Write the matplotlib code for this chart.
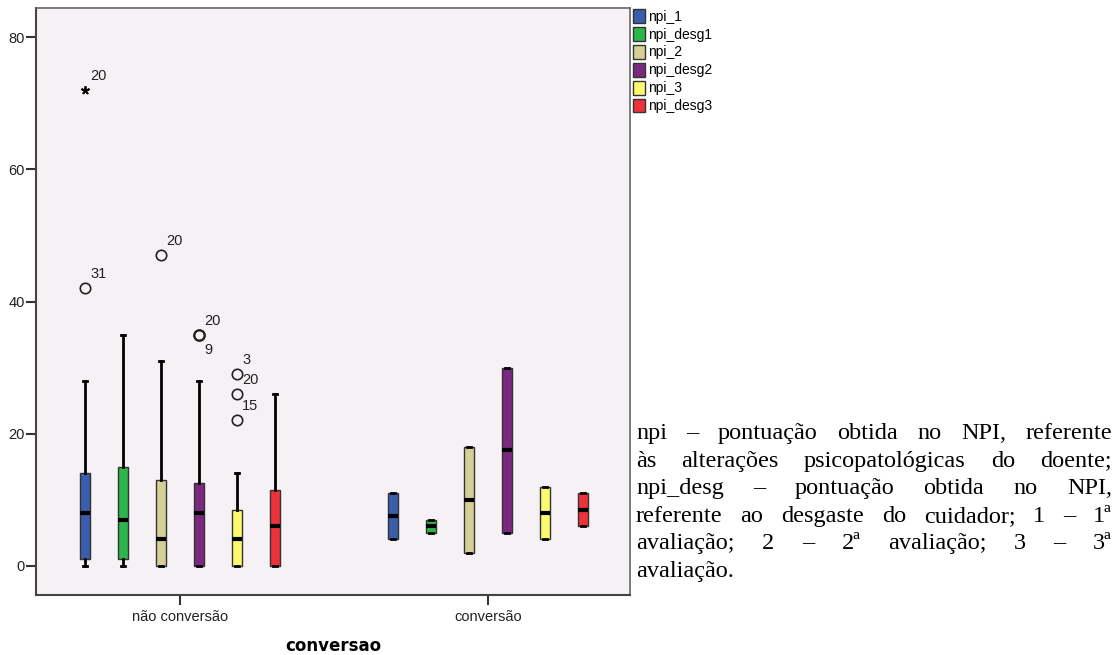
import matplotlib
matplotlib.use("Agg")
import matplotlib.pyplot as plt
from matplotlib.patches import Patch

# groups on the x axis and the six score variables
groups = ["não conversão", "conversão"]
series = ["npi_1", "npi_desg1", "npi_2", "npi_desg2", "npi_3", "npi_desg3"]
colors = ["#3b5dad", "#2cb74a", "#d6cf96", "#7b2880", "#fdfa70", "#ee3239"]

# box statistics, "não conversão"
whislo_nc = [0, 0, 0, 0, 0, 0]
q1_nc = [1, 1, 0, 0, 0, 0]
med_nc = [8, 7, 4, 8, 4, 6]
q3_nc = [14, 15, 13, 12.5, 8.5, 11.5]
whishi_nc = [28, 35, 31, 28, 14, 26]

# box statistics, "conversão"
whislo_c = [4, 5, 2, 5, 4, 6]
q1_c = [4, 5, 2, 5, 4, 6]
med_c = [7.5, 6, 10, 17.5, 8, 8.5]
q3_c = [11, 7, 18, 30, 12, 11]
whishi_c = [11, 7, 18, 30, 12, 11]

# outliers: (group, series, value, case number, marker)
outliers = [
    (0, 0, 42, "31", "o"),
    (0, 0, 72, "20", "*"),
    (0, 2, 47, "20", "o"),
    (0, 3, 35, "20", "o"),
    (0, 3, 35, "9", "o"),
    (0, 4, 29, "3", "o"),
    (0, 4, 26, "20", "o"),
    (0, 4, 22, "15", "o"),
]

note_lines = [
    "npi – pontuação obtida no NPI, referente",
    "às alterações psicopatológicas do doente;",
    "npi_desg – pontuação obtida no NPI,",
    "referente ao desgaste do cuidador; 1 – 1ª",
    "avaliação; 2 – 2ª avaliação; 3 – 3ª",
    "avaliação.",
]

W, H = 1117, 655
fig = plt.figure(figsize=(W / 100, H / 100), dpi=100)
ax = fig.add_axes([36 / W, 1 - 595 / H, (630 - 36) / W, (595 - 8) / H])
ax.set_facecolor("#f5f1f5")

step = 0.1234
box_w = 0.033
offsets = [(i - 2.5) * step for i in range(len(series))]

stats_all = [
    (whislo_nc, q1_nc, med_nc, q3_nc, whishi_nc),
    (whislo_c, q1_c, med_c, q3_c, whishi_c),
]

for g, (lo, q1, med, q3, hi) in enumerate(stats_all):
    for s in range(len(series)):
        st = dict(whislo=lo[s], q1=q1[s], med=med[s], q3=q3[s], whishi=hi[s], fliers=[])
        ax.bxp([st], positions=[g + offsets[s]], widths=box_w, capwidths=0.016,
               showfliers=False, patch_artist=True,
               boxprops=dict(facecolor=colors[s], edgecolor="#333333", linewidth=1.0),
               medianprops=dict(color="black", linewidth=3.0, solid_capstyle="butt"),
               whiskerprops=dict(color="black", linewidth=2.0),
               capprops=dict(color="black", linewidth=2.0),
               manage_ticks=False)

# outliers with case labels; a repeated value gets its second label underneath
seen = {}
for g, s, v, case, mk in outliers:
    x = g + offsets[s]
    key = (g, s, v)
    n = seen.get(key, 0)
    seen[key] = n + 1
    if mk == "*":
        ax.plot(x, v, marker=(5, 2, 0), color="black", markersize=6, mew=1.3, zorder=5)
    else:
        ax.plot(x, v, marker="o", mfc="none", mec="#222222", markersize=7.5,
                mew=1.6 if n else 1.2, zorder=5)
    dy = 14 if n == 0 else -15
    ax.annotate(case, (x, v), xytext=(5, dy), textcoords="offset pixels",
                ha="left", va="center", fontsize=10.5, family="Liberation Sans",
                color="#222222")

ax.set_xlim(-0.4675, 1.461)
ax.set_ylim(-4.4, 84.4)
ax.set_yticks([0, 20, 40, 60, 80])
ax.set_xticks([0, 1])
ax.set_xticklabels(groups)
ax.tick_params(axis="y", length=7, width=1.5, pad=1, labelsize=10.5, colors="#333333")
ax.tick_params(axis="x", length=7, width=1.5, pad=4, labelsize=10.5, colors="#333333")
for lab in ax.get_xticklabels() + ax.get_yticklabels():
    lab.set_family("Liberation Sans")
    lab.set_color("#222222")
for side in ["top", "right"]:
    ax.spines[side].set_color("#666666")
    ax.spines[side].set_linewidth(1.2)
for side in ["left", "bottom"]:
    ax.spines[side].set_color("#444444")
    ax.spines[side].set_linewidth(1.5)
ax.set_xlabel("conversao", fontsize=12, fontweight="bold", labelpad=9,
              family="DejaVu Sans")

handles = [Patch(facecolor=c, edgecolor="#333333", linewidth=1.0) for c in colors]
fig.legend(handles, series, loc="upper left", bbox_to_anchor=(633 / W, 1 - 9 / H),
           frameon=False, handlelength=0.85, handleheight=1.15,
           handletextpad=0.2, labelspacing=0.24, borderpad=0, borderaxespad=0,
           prop={"family": "Liberation Sans", "size": 10})

# justified note text beside the plot
renderer = fig.canvas.get_renderer()
x0, x1 = 636, 1112
base0, dy = 439, 27.6
for i, line in enumerate(note_lines):
    y = 1 - (base0 + i * dy) / H
    kw = dict(fontsize=17.5, family="Liberation Serif", va="baseline", ha="left")
    if i == len(note_lines) - 1:
        fig.text(x0 / W, y, line, **kw)
        continue
    words = line.split(" ")
    texts = [fig.text(0, y, w, **kw) for w in words]
    widths = [t.get_window_extent(renderer).width for t in texts]
    gap = (x1 - x0 - sum(widths)) / (len(words) - 1)
    x = x0
    for t, w in zip(texts, widths):
        t.set_x(x / W)
        x += w + gap

fig.savefig("out.png", dpi=100, facecolor="white")
